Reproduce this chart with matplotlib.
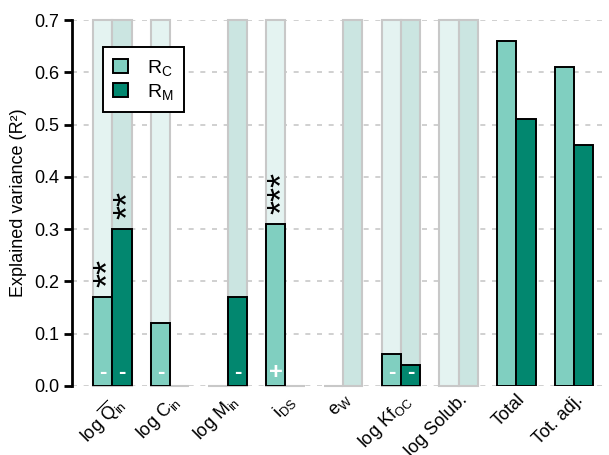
import matplotlib.pyplot as plt
import matplotlib.patches as mpatches
import numpy as np

plt.rcParams['font.family'] = ['Liberation Sans', 'DejaVu Sans']
plt.rcParams['mathtext.fontset'] = 'custom'
plt.rcParams['mathtext.rm'] = 'Liberation Sans'
plt.rcParams['mathtext.it'] = 'Liberation Sans'

# predictors and explained variance per model
labels = [r'log $\overline{\mathrm{Q}}_{\mathrm{in}}$', r'log C$_{\mathrm{in}}$', r'log M$_{\mathrm{in}}$',
          r'i$_{\mathrm{DS}}$', r'e$_{\mathrm{W}}$', r'log Kf$_{\mathrm{OC}}$', 'log Solub.', 'Total', 'Tot. adj.']
r_c = [0.17, 0.12, 0.0, 0.31, 0.0, 0.06, 0.0, 0.66, 0.61]
r_m = [0.30, 0.0, 0.17, 0.0, 0.0, 0.04, 0.0, 0.51, 0.46]
# predictors included in each model (shaded backdrop)
incl_c = [1, 1, 0, 1, 0, 1, 1, 0, 0]
incl_m = [1, 0, 1, 0, 1, 1, 1, 0, 0]
sign_c = ['-', '-', '', '+', '', '-', '', '', '']
sign_m = ['-', '', '-', '', '', '-', '', '', '']
stars_c = ['**', '', '', '***', '', '', '', '', '']
stars_m = ['**', '', '', '', '', '', '', '', '']

col_c = '#80cfc0'
col_m = '#02876f'
bg_c = '#e4f3f1'
bg_m = '#cbe5e1'

fig = plt.figure(figsize=(6.09, 4.55), dpi=100)
ax = fig.add_axes([0.118, 0.152, 0.875, 0.804])

x = np.arange(len(labels))
w = 1 / 3
ymax = 0.7

for i in x:
    if i < 7:
        hc = ymax if incl_c[i] else 0
        hm = ymax if incl_m[i] else 0
        ax.bar(i - w / 2, hc, w, color=bg_c, edgecolor='#c8c8c8', linewidth=1.5, zorder=1, clip_on=False)
        ax.bar(i + w / 2, hm, w, color=bg_m, edgecolor='#c8c8c8', linewidth=1.5, zorder=1, clip_on=False)
    if r_c[i] > 0:
        ax.bar(i - w / 2, r_c[i], w, color=col_c, edgecolor='black', linewidth=1.4, zorder=3)
    if r_m[i] > 0:
        ax.bar(i + w / 2, r_m[i], w, color=col_m, edgecolor='black', linewidth=1.4, zorder=3)
    for dx, s in ((-w / 2, sign_c[i]), (w / 2, sign_m[i])):
        if s:
            ax.text(i + dx, 0.025, s, color='white', fontsize=17 if s == '+' else 16,
                    fontweight='bold', ha='center', va='center', zorder=4)
    # significance stars stacked above the bar
    for dx, s, v in ((-w / 2, stars_c[i], r_c[i]), (w / 2, stars_m[i], r_m[i])):
        if s:
            ax.annotate(s, xy=(i + dx, v), xytext=(5.5, 7), textcoords='offset points',
                        fontsize=26, rotation=90, ha='center', va='bottom', zorder=4)

ax.set_xlim(-0.7, 8.53)
ax.set_ylim(0, ymax)
ax.set_yticks(np.arange(0, 0.71, 0.1))
ax.set_yticklabels([f'{v:.1f}' for v in np.arange(0, 0.71, 0.1)], fontsize=13)
ax.yaxis.grid(True, color='#c8c8c8', linestyle=(0, (3, 4)), linewidth=1.2, zorder=0)
ax.set_axisbelow(True)
ax.set_ylabel('Explained variance (R²)', fontsize=13, labelpad=5)

ax.set_xticks(x)
ax.set_xticklabels(labels, rotation=45, ha='right', rotation_mode='anchor', fontsize=13)
ax.tick_params(axis='x', length=0, pad=4)
ax.tick_params(axis='y', length=6, width=2, direction='out', pad=3)
for side in ('top', 'right', 'bottom'):
    ax.spines[side].set_visible(False)
ax.spines['left'].set_linewidth(2)

handles = [mpatches.Patch(facecolor=col_c, edgecolor='black', linewidth=1.4, label=r'R$_{\mathrm{C}}$'),
           mpatches.Patch(facecolor=col_m, edgecolor='black', linewidth=1.4, label=r'R$_{\mathrm{M}}$')]
leg = ax.legend(handles=handles, loc='upper left', bbox_to_anchor=(0.058, 0.926), fontsize=14,
                handlelength=0.75, handleheight=0.75, handletextpad=0.95, borderpad=0.55,
                labelspacing=0.2, borderaxespad=0, fancybox=False, framealpha=1)
leg.get_frame().set_edgecolor('black')
leg.get_frame().set_linewidth(1.4)
leg.set_zorder(5)

fig.savefig('out.png', dpi=100)
